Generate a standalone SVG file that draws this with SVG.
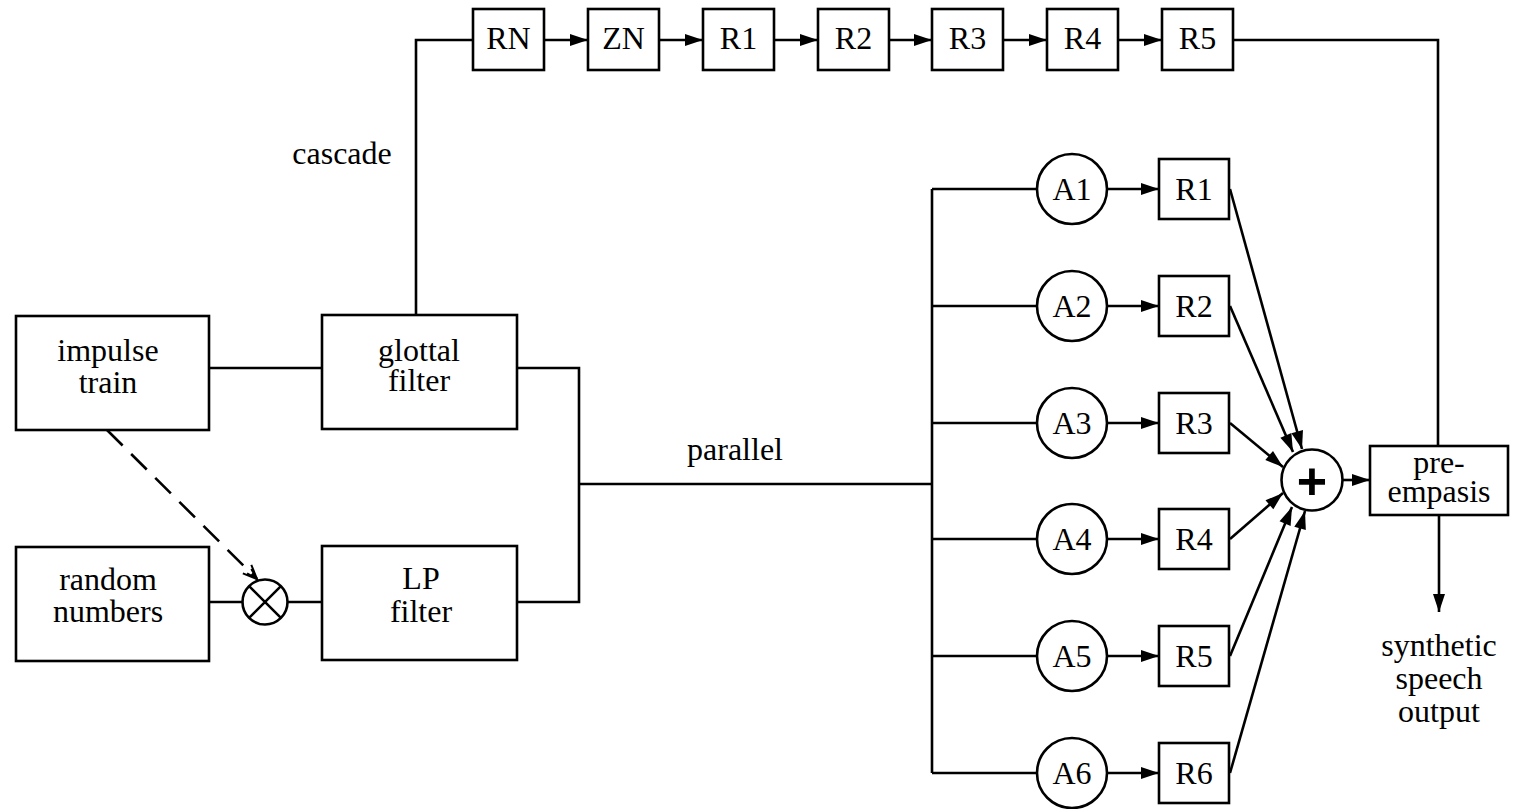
<svg xmlns="http://www.w3.org/2000/svg" width="1515" height="809" viewBox="0 0 1515 809">
<style>
.box{fill:#fff;stroke:#000;stroke-width:2.6}
.ln{fill:none;stroke:#000;stroke-width:2.6}
.ar{marker-end:url(#ah)}
.t{font-family:"Liberation Serif","Times New Roman",serif;font-size:32px;text-anchor:middle;fill:#000}
</style>
<defs>
<marker id="ah" markerUnits="userSpaceOnUse" markerWidth="18" markerHeight="12" refX="18" refY="6" orient="auto" overflow="visible"><path d="M0,0 L18,6 L0,12 z" fill="#000"/></marker>
<marker id="oh" markerUnits="userSpaceOnUse" markerWidth="16" markerHeight="14" refX="14" refY="7" orient="auto" overflow="visible"><path d="M0,1 L14,7 L0,13 M3,4 L14,7 L3,10" fill="none" stroke="#000" stroke-width="2"/></marker>
</defs>
<rect width="1515" height="809" fill="#fff"/>
<g id="connectors">
<polyline class="ln" points="416,314 416,40 473,40"/>
<line class="ln ar" x1="545" y1="40" x2="588" y2="40"/>
<line class="ln ar" x1="660" y1="40" x2="703" y2="40"/>
<line class="ln ar" x1="775" y1="40" x2="818" y2="40"/>
<line class="ln ar" x1="889" y1="40" x2="932" y2="40"/>
<line class="ln ar" x1="1004" y1="40" x2="1047" y2="40"/>
<line class="ln ar" x1="1119" y1="40" x2="1162" y2="40"/>
<polyline class="ln" points="1233,40 1438,40 1438,446"/>
<line class="ln" x1="209" y1="368" x2="322" y2="368"/>
<line class="ln" x1="209" y1="602" x2="243" y2="602"/>
<line class="ln" x1="287" y1="602" x2="322" y2="602"/>
<line class="ln" x1="107" y1="430" x2="257" y2="579" stroke-dasharray="22 12" marker-end="url(#oh)"/>
<polyline class="ln" points="517,368 579,368 579,602 517,602"/>
<line class="ln" x1="579" y1="484" x2="932" y2="484"/>
<line class="ln" x1="932" y1="189" x2="932" y2="773"/>
<line class="ln" x1="932" y1="189" x2="1037" y2="189"/>
<line class="ln" x1="932" y1="306" x2="1037" y2="306"/>
<line class="ln" x1="932" y1="423" x2="1037" y2="423"/>
<line class="ln" x1="932" y1="539" x2="1037" y2="539"/>
<line class="ln" x1="932" y1="656" x2="1037" y2="656"/>
<line class="ln" x1="932" y1="773" x2="1037" y2="773"/>
<line class="ln ar" x1="1107" y1="189" x2="1159" y2="189"/>
<line class="ln ar" x1="1107" y1="306" x2="1159" y2="306"/>
<line class="ln ar" x1="1107" y1="423" x2="1159" y2="423"/>
<line class="ln ar" x1="1107" y1="539" x2="1159" y2="539"/>
<line class="ln ar" x1="1107" y1="656" x2="1159" y2="656"/>
<line class="ln ar" x1="1107" y1="773" x2="1159" y2="773"/>
<line class="ln ar" x1="1230" y1="189" x2="1302" y2="449"/>
<line class="ln ar" x1="1230" y1="306" x2="1293" y2="452"/>
<line class="ln ar" x1="1230" y1="423" x2="1283" y2="467"/>
<line class="ln ar" x1="1230" y1="539" x2="1283" y2="493"/>
<line class="ln ar" x1="1230" y1="656" x2="1292" y2="507"/>
<line class="ln ar" x1="1230" y1="773" x2="1305" y2="511"/>
<line class="ln ar" x1="1343" y1="480" x2="1370" y2="480"/>
<line class="ln ar" x1="1439" y1="515" x2="1439" y2="612"/>
</g>
<g id="impulse-train"><rect class="box" x="16" y="316" width="193" height="114"/><text class="t" x="108" y="361">impulse</text><text class="t" x="108" y="393">train</text></g>
<g id="glottal-filter"><rect class="box" x="322" y="315" width="195" height="114"/><text class="t" x="419" y="361">glottal</text><text class="t" x="419" y="391">filter</text></g>
<g id="random-numbers"><rect class="box" x="16" y="547" width="193" height="114"/><text class="t" x="108" y="590">random</text><text class="t" x="108" y="622">numbers</text></g>
<g id="multiplier"><circle class="box" cx="265" cy="602" r="22.5"/><path class="ln" d="M249.1,586.1 L280.9,617.9 M280.9,586.1 L249.1,617.9"/></g>
<g id="lp-filter"><rect class="box" x="322" y="546" width="195" height="114"/><text class="t" x="421" y="589">LP</text><text class="t" x="421" y="622">filter</text></g>
<g id="c-RN"><rect class="box" x="473" y="9" width="71" height="61"/><text class="t" x="508.5" y="49">RN</text></g>
<g id="c-ZN"><rect class="box" x="588" y="9" width="71" height="61"/><text class="t" x="623.5" y="49">ZN</text></g>
<g id="c-R1"><rect class="box" x="703" y="9" width="71" height="61"/><text class="t" x="738.5" y="49">R1</text></g>
<g id="c-R2"><rect class="box" x="818" y="9" width="71" height="61"/><text class="t" x="853.5" y="49">R2</text></g>
<g id="c-R3"><rect class="box" x="932" y="9" width="71" height="61"/><text class="t" x="967.5" y="49">R3</text></g>
<g id="c-R4"><rect class="box" x="1047" y="9" width="71" height="61"/><text class="t" x="1082.5" y="49">R4</text></g>
<g id="c-R5"><rect class="box" x="1162" y="9" width="71" height="61"/><text class="t" x="1197.5" y="49">R5</text></g>
<g id="p-A1"><circle class="box" cx="1072" cy="189" r="35"/><text class="t" x="1072" y="200">A1</text></g>
<g id="p-A2"><circle class="box" cx="1072" cy="306" r="35"/><text class="t" x="1072" y="317">A2</text></g>
<g id="p-A3"><circle class="box" cx="1072" cy="423" r="35"/><text class="t" x="1072" y="434">A3</text></g>
<g id="p-A4"><circle class="box" cx="1072" cy="539" r="35"/><text class="t" x="1072" y="550">A4</text></g>
<g id="p-A5"><circle class="box" cx="1072" cy="656" r="35"/><text class="t" x="1072" y="667">A5</text></g>
<g id="p-A6"><circle class="box" cx="1072" cy="773" r="35"/><text class="t" x="1072" y="784">A6</text></g>
<g id="p-R1"><rect class="box" x="1159" y="159" width="70" height="60"/><text class="t" x="1194" y="200">R1</text></g>
<g id="p-R2"><rect class="box" x="1159" y="276" width="70" height="60"/><text class="t" x="1194" y="317">R2</text></g>
<g id="p-R3"><rect class="box" x="1159" y="393" width="70" height="60"/><text class="t" x="1194" y="434">R3</text></g>
<g id="p-R4"><rect class="box" x="1159" y="509" width="70" height="60"/><text class="t" x="1194" y="550">R4</text></g>
<g id="p-R5"><rect class="box" x="1159" y="626" width="70" height="60"/><text class="t" x="1194" y="667">R5</text></g>
<g id="p-R6"><rect class="box" x="1159" y="743" width="70" height="60"/><text class="t" x="1194" y="784">R6</text></g>
<g id="adder"><circle class="box" cx="1312" cy="480" r="30.5"/><text x="1312" y="499" font-family="Liberation Sans, Arial, sans-serif" font-weight="bold" font-size="52" text-anchor="middle">+</text></g>
<g id="pre-emphasis"><rect class="box" x="1370" y="446" width="138" height="69"/><text class="t" x="1439" y="473">pre-</text><text class="t" x="1439" y="502">empasis</text></g>
<g id="labels">
<text class="t" x="342" y="164">cascade</text>
<text class="t" x="735" y="460">parallel</text>
<text class="t" x="1439" y="656">synthetic</text>
<text class="t" x="1439" y="689">speech</text>
<text class="t" x="1439" y="722">output</text>
</g>
</svg>
